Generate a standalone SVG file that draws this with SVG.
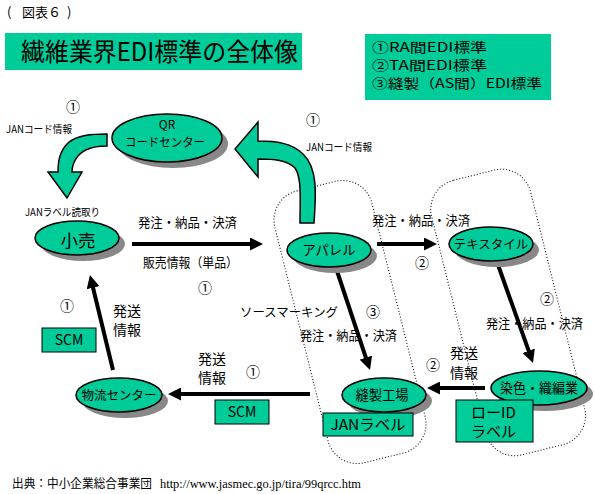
<svg xmlns="http://www.w3.org/2000/svg" width="595" height="494" viewBox="0 0 595 494">
<defs>
<style>
text{font-family:"Noto Sans CJK JP","Noto Sans",sans-serif;fill:#000}
.teal{fill:#00CC99;stroke:#000;stroke-width:1}
.node{fill:#00CC99;stroke:#000;stroke-width:1.5}
.shadow{fill:#888}
.arrow{fill:#00CC99;stroke:#000;stroke-width:1.5}
.dot{fill:none;stroke:#000;stroke-width:1;stroke-dasharray:1 2}
.conn{stroke:#000;stroke-width:4;fill:none;marker-end:url(#ah)}
.mid{text-anchor:middle}
</style>
<marker id="ah" viewBox="0 0 13 13" refX="1" refY="6.5" markerWidth="13" markerHeight="13" markerUnits="userSpaceOnUse" orient="auto">
<path d="M0,0 L13,6.5 L0,13 Z" fill="#000"/>
</marker>
</defs>
<rect width="595" height="494" fill="#fff"/>

<g id="caption">
<text x="7" y="17" font-size="13">(</text>
<text x="22" y="17" font-size="13">図表６</text>
<text x="67" y="17" font-size="13">)</text>
</g>

<g id="title">
<rect x="5" y="33" width="297" height="37" fill="#00CC99"/>
<text x="21" y="61" font-size="25" textLength="277" lengthAdjust="spacingAndGlyphs">繊維業界EDI標準の全体像</text>
</g>

<g id="legend">
<rect x="365" y="34" width="186" height="66" fill="#00CC99"/>
<text font-size="13"><tspan x="372" y="52" textLength="115" lengthAdjust="spacingAndGlyphs">①RA間EDI標準</tspan><tspan x="372" y="70" textLength="115" lengthAdjust="spacingAndGlyphs">②TA間EDI標準</tspan><tspan x="372" y="88" textLength="170" lengthAdjust="spacingAndGlyphs">③縫製（AS間）EDI標準</tspan></text>
</g>

<g id="regions">
<rect class="dot" x="300" y="182" width="100" height="280" rx="30" transform="rotate(-14 350 322)"/>
<rect class="dot" x="457" y="171" width="102" height="283" rx="30" transform="rotate(-14 508 312)"/>
</g>

<g id="green-arrows">
<path class="arrow" d="M107,134 L107,146 C93,146 84,149 78,156 C73,162 72,166 72,172 L82,172 L67,198 L48,172 L58,172 C58,160 60,151 68,143 C77,135 92,134 107,134 Z"/>
<path class="arrow" d="M300,223 L314,223 C316,195 318,168 303,154 C292,143 276,141 258,141 L258,122 L235,149 L258,177 L258,159 C274,159 287,160 295,168 C302,178 300,200 300,223 Z"/>
</g>

<g id="connectors">
<line class="conn" x1="132" y1="244" x2="251" y2="244"/>
<line class="conn" x1="377" y1="244" x2="425" y2="244"/>
<line class="conn" x1="336" y1="268" x2="366.2" y2="358.6"/>
<line class="conn" x1="497" y1="262" x2="529" y2="351.7"/>
<line class="conn" x1="485" y1="388" x2="439" y2="388"/>
<line class="conn" x1="310" y1="394" x2="180" y2="394"/>
<line class="conn" x1="113" y1="370" x2="92.8" y2="286.7"/>
</g>

<g id="node-qr">
<ellipse class="shadow" cx="173" cy="144" rx="55" ry="24"/>
<ellipse class="node" cx="167" cy="138" rx="55" ry="24"/>
<text class="mid" font-size="12"><tspan x="167" y="129">QR</tspan><tspan x="165" y="147" textLength="80" lengthAdjust="spacingAndGlyphs">コードセンター</tspan></text>
</g>

<g id="node-kouri">
<ellipse class="shadow" cx="83" cy="244" rx="42" ry="17"/>
<ellipse class="node" cx="77" cy="238" rx="42" ry="17"/>
<text class="mid" x="78" y="247" font-size="17.5">小売</text>
</g>

<g id="node-apparel">
<ellipse class="shadow" cx="335" cy="256" rx="42" ry="17"/>
<ellipse class="node" cx="329" cy="250" rx="42" ry="17"/>
<text class="mid" x="329" y="255" font-size="13.3">アパレル</text>
</g>

<g id="node-textile">
<ellipse class="shadow" cx="497" cy="250" rx="42" ry="17"/>
<ellipse class="node" cx="491" cy="244" rx="42" ry="17"/>
<text class="mid" x="491" y="249" font-size="12.5">テキスタイル</text>
</g>

<g id="node-senshoku">
<ellipse class="shadow" cx="545" cy="394" rx="48" ry="17"/>
<ellipse class="node" cx="539" cy="388" rx="48" ry="17"/>
<text class="mid" x="539" y="393" font-size="14" textLength="78" lengthAdjust="spacingAndGlyphs">染色・織編業</text>
</g>

<g id="node-housei">
<ellipse class="shadow" cx="390" cy="401" rx="42" ry="17"/>
<ellipse class="node" cx="384" cy="395" rx="42" ry="17"/>
<text class="mid" x="382" y="400" font-size="13.3">縫製工場</text>
</g>

<g id="node-butsuryu">
<ellipse class="shadow" cx="125" cy="401" rx="43" ry="17"/>
<ellipse class="node" cx="119" cy="395" rx="43" ry="17"/>
<text class="mid" x="119" y="400" font-size="12.5">物流センター</text>
</g>

<g id="box-scm1">
<rect class="teal" x="42" y="328" width="54" height="24"/>
<text class="mid" x="69" y="345" font-size="14">SCM</text>
</g>
<g id="box-scm2">
<rect class="teal" x="215" y="400" width="54" height="24"/>
<text class="mid" x="242" y="417" font-size="14">SCM</text>
</g>
<g id="box-jan">
<rect class="teal" x="323" y="413" width="90" height="23"/>
<text class="mid" x="368" y="430" font-size="15" textLength="75" lengthAdjust="spacingAndGlyphs">JANラベル</text>
</g>
<g id="box-roid">
<rect class="teal" x="456" y="400" width="77" height="42"/>
<text font-size="15"><tspan x="471" y="418">ローID</tspan><tspan x="471" y="437">ラベル</tspan></text>
</g>

<g id="labels">
<text class="mid" x="73" y="112" font-size="14">①</text>
<text x="6" y="133" font-size="10.5" textLength="66" lengthAdjust="spacingAndGlyphs">JANコード情報</text>
<text x="25" y="216" font-size="10.5" textLength="75" lengthAdjust="spacingAndGlyphs">JANラベル読取り</text>
<text x="138" y="227" font-size="13" textLength="99" lengthAdjust="spacingAndGlyphs">発注・納品・決済</text>
<text x="143" y="267" font-size="13" textLength="95" lengthAdjust="spacingAndGlyphs">販売情報（単品）</text>
<text class="mid" x="205" y="293" font-size="14">①</text>
<text class="mid" x="67" y="311" font-size="14">①</text>
<text font-size="14"><tspan x="113" y="316">発送</tspan><tspan x="113" y="335">情報</tspan></text>
<text x="240" y="317" font-size="12.5" textLength="98" lengthAdjust="spacingAndGlyphs">ソースマーキング</text>
<text class="mid" x="373" y="317" font-size="14">③</text>
<text x="300" y="340" font-size="13" textLength="97" lengthAdjust="spacingAndGlyphs">発注・納品・決済</text>
<text font-size="14"><tspan x="198" y="364">発送</tspan><tspan x="198" y="383">情報</tspan></text>
<text class="mid" x="253" y="377" font-size="14">①</text>
<text class="mid" x="313" y="125" font-size="14">①</text>
<text x="306" y="151" font-size="10.5" textLength="66" lengthAdjust="spacingAndGlyphs">JANコード情報</text>
<text x="372" y="225" font-size="13" textLength="98" lengthAdjust="spacingAndGlyphs">発注・納品・決済</text>
<text class="mid" x="422" y="268" font-size="14">②</text>
<text class="mid" x="547" y="304" font-size="14">②</text>
<text x="486" y="328" font-size="13" textLength="97" lengthAdjust="spacingAndGlyphs">発注・納品・決済</text>
<text font-size="14"><tspan x="450" y="358">発送</tspan><tspan x="450" y="378">情報</tspan></text>
<text class="mid" x="433" y="370" font-size="14">②</text>
</g>

<g id="footer">
<text x="12" y="488" font-size="12" textLength="140" lengthAdjust="spacingAndGlyphs">出典：中小企業総合事業団</text>
<text x="160" y="488" font-size="12.5" style="font-family:'Liberation Serif',serif" textLength="201" lengthAdjust="spacingAndGlyphs">http://www.jasmec.go.jp/tira/99qrcc.htm</text>
</g>
</svg>
